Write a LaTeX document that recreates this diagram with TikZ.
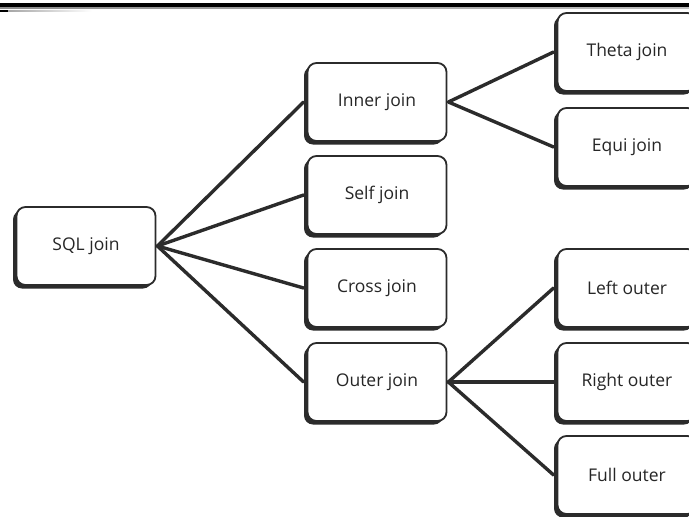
\documentclass[tikz,border=0pt]{standalone}
\usepackage{fontspec}
\setmainfont{Open Sans}
\usetikzlibrary{shadows}
\definecolor{inkline}{HTML}{2B2B2B}
\definecolor{inktext}{HTML}{262626}
\begin{document}
\begin{tikzpicture}[x=1pt,y=-1pt,
  joinbox/.style={draw=inkline, line width=1.8pt, fill=white,
    rounded corners=9pt, minimum width=139pt, minimum height=78pt,
    inner sep=0pt, text=inktext, font=\fontsize{17.5}{20}\selectfont,
    drop shadow={shadow xshift=-3.5pt, shadow yshift=-3.5pt,
      fill=inkline, opacity=1}},
  link/.style={draw=inkline, line width=3.4pt, line cap=round}]
\clip (0,0) rectangle (689,517);
\fill[white] (0,0) rectangle (689,517);

% header rule
\draw[line width=3.6pt, black] (0,5) -- (689,5);
\shade[left color=black!45, right color=black!25] (0,7.6) rectangle (689,8.6);
\draw[line width=1.6pt, black] (0,11) -- (8,11);
\shade[left color=black!35, right color=white] (8,10.6) rectangle (92,11.4);

% nodes
\node[joinbox] (sql)   at (86,246)  {SQL join};
\node[joinbox] (inner) at (377,102) {Inner join};
\node[joinbox] (self)  at (377,195) {Self join};
\node[joinbox] (cross) at (377,288) {Cross join};
\node[joinbox] (outer) at (377,382) {Outer join};
\node[joinbox] (theta) at (627,52)  {Theta join};
\node[joinbox] (equi)  at (627,147) {Equi join};
\node[joinbox] (left)  at (627,288) {Left outer};
\node[joinbox] (right) at (627,382) {Right outer};
\node[joinbox] (full)  at (627,475) {Full outer};

% connectors
\foreach \t in {inner,self,cross,outer}
  \draw[link] ([xshift=1pt]sql.east) -- ([xshift=-3pt]\t.west);
\foreach \t in {theta,equi}
  \draw[link] ([xshift=1pt]inner.east) -- ([xshift=-3pt]\t.west);
\foreach \t in {left,right,full}
  \draw[link] ([xshift=1pt]outer.east) -- ([xshift=-3pt]\t.west);
\end{tikzpicture}
\end{document}
